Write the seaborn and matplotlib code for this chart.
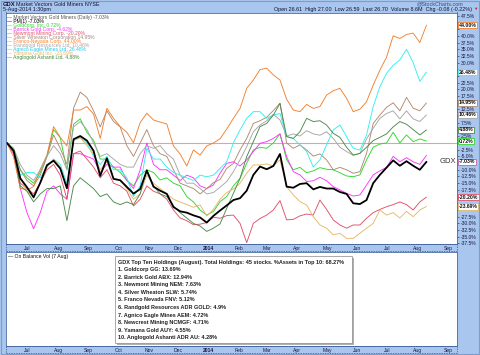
import numpy as np
import pandas as pd
import matplotlib
matplotlib.use("Agg")
import matplotlib.pyplot as plt
import seaborn as sns
from matplotlib.patches import Rectangle

# ---------------- data (percent change since start, weekly readings) ----------------
dates = pd.date_range("2013-06-05", "2014-08-05", periods=64)

gdx = [0, -2.9, -13.2, -16.5, -20.3, -14.8, -8.3, -6.6, -9.5, -16.9, 1.4, 2.6, 0.9, -2.9, -12.3, -5.7,
       -13.4, -13.9, -16.4, -18.9, -17.2, -10.3, -16.3, -17.8, -19.0, -23.9, -25.5, -26.0, -27.0, -27.8,
       -29.7, -27.2, -25.2, -23.3, -21.3, -20.6, -17.8, -11.9, -8.8, -9.8, -8.6, -4.1, -16.3, -16.7,
       -15.3, -15.0, -17.3, -16.4, -17.0, -17.0, -18.3, -19.0, -22.5, -22.8, -21.3, -15.0, -11.9, -9.2,
       -6.5, -8.5, -6.8, -8.5, -10.0, -7.03]
goldcorp = [0, -2, -10, -13, -15, -11, -5, 5, 2, -10, 7, 9, 4, 1, -6, -6, -9, -11, -14, -16, -12, -10,
            -11, -13.8, -13, -15, -16, -20, -22, -25,
            -26.9, -25.6, -21.9, -20, -16, -13.2, -7.6, -2.6, -1.6, -2, 0, 3.4, -6.3, -10, -9.1, -11.1,
            -10.4, -9.2, -9.8, -10, -11.1, -12.3, -12.6, -11.9, -6.3, -1.6, -0.4, 0,
            4, 0, 3, 0.5, 1.5, 0.72]
barrick = [0, -4, -17, -26, -32, -26, -18, -16, -19, -21, -4, -4, -5, -6, -11, -8, -9, -9, -14, -17,
           -10, 0, -8, -10, -10, -12, -14, -12, -13, -16,
           -17, -15.7, -11.3, -7.6, -7, -8.6, -6.3, -3.2, -0.1, 0.5, 1.7, 3.4, -5.1, -10.7, -11.9, -14.4,
           -14.1, -12.8, -14.1, -16.3, -17.5, -18.8, -19.8, -19.4, -15.7, -11.9, -10.4, -9.1,
           -5, -7, -5.5, -7, -8, -4.62]
newmont = [0, -4, -15, -17, -19, -15, -10, -8, -12, -21, -4, -3, -6, -9, -13, -10, -15, -16, -18, -23.5,
           -21, -16, -18, -19, -21, -25, -28, -29, -30.5, -30.3,
           -29.7, -27.7, -28.1, -27.1, -26.9, -30, -37.2, -30, -28.2, -26.9, -25, -21.5, -28.7, -28.5,
           -27.2, -26.5, -26.9, -21.3, -24.8, -28.7, -30.6, -31.8, -30.6, -30.6, -28.1, -26, -24.8, -23.8,
           -23, -22, -23, -25, -22, -20.20]
silver_wheaton = [0, -3, -10, -14, -16, -12, -5, 3, -2, -8, 13, 19, 17, 12, 6, 12, 8, 6, -1, -5, 0, 5,
                  -1, -4, -5, -10, -15, -16, -17, -19,
                  -17, -14.8, -13.6, -9.5, -7.6, -2.6, 1.7, 7.3, 8.3, 9.6, 12.1, 14.8, 0, -2, -0.7, -2.6,
                  -4.9, -4.1, -6.3, -10, -9.1, -10, -11.3, -10.7, -3.9, 7.3, 10.4, 13.3,
                  15, 12, 17, 13, 12, 14.95]
franco_nevada = [0, -5.3, -16.9, -17.5, -16.3, -9.8, -4.5, 6.1, 2.1, -1.1, 12.3, 12.3, 13.6, 10.8, 1.7,
                 12.9, 9.2, 6.1, 4.0, 0.1, 7.6, 11.1, 8.6, 7.8, 7.1, -1.1, -4.1, -8.6, -2.6, -4.5,
                 -1.1, 0.0, 1.6, 5.2, 9.2, 12.9, 20.4, 23.5, 27.4, 27.9, 25.4, 23.5, 16.3, 12.3, 11.7, 14.4,
                 12.9, 13.6, 17.9, 19.5, 20.4, 16.7, 11.7, 12.6, 15.4, 21.6, 27.2, 32.0,
                 40.0, 39.0, 40.5, 41.0, 37.5, 44.00]
randgold = [0, -2, -8, -12, -14, -10, -5, -1, -4, -10, 6, 8, 5, 0, -5, -4, -6, -8, -9, -9, -4, -1, -2,
            -1, -4, -6, -12, -15, -15, -17,
            -19, -18.5, -16.5, -14.4, -10.7, -6.3, -1.4, 4.2, 6.7, 8.3, 10.7, 8.6, 2.6, 3.4, 2.6, 4.6,
            3.4, 2.9, 4.2, 1.7, -1.6, -3.2, -4.6, -3.9, 1.5, 5.5, 9.2, 11,
            12, 9, 12, 9, 8, 10.46]
agnico = [0, -3, -12, -11, -11, -13, -9, -6, -8, -15, 1, 2, 0, -5, -8, -5, -10, -10, -13, -20, -16, -2,
          -6, -6, -9, -11, -12, -13, -14, -12,
          -12.6, -12, -9.5, -7, 0, 4.9, 9.2, 11.7, 11.7, 9.2, 10.4, 11, 2.4, 1.7, -0.7, -3.2, -9, -6.3,
          -0.7, 4.9, 6.7, 2.4, -2, -2.6, 3, 13.6, 21, 26,
          29, 31, 35, 30, 23, 26.48]
yamana = [0, -3, -13, -18, -20, -15, -9, -6, -9, -17, 1, 2, -1, -4, -10, -7, -13, -14, -17, -21, -19,
          -12, -15, -17, -19, -21, -22, -23, -24, -23.1,
          -27.2, -24.8, -21, -18.5, -17.2, -15, -11.3, -8.2, -8.2, -7.8, -8.6, -6.3, -16.3, -19.4, -21.9,
          -23.1, -27.5, -30.6, -31.8, -34.3, -33.7, -35.6, -35.6, -33.7, -31.8, -30, -25, -26.9,
          -26, -28, -25.5, -27.5, -25, -23.69]
anglogold = [0, -3, -16, -18, -22, -19, -17, -17, -16, -29, -16, -13, -15, -17, -20, -19, -22, -23, -22,
             -23, -19, -10, -16, -19, -20, -23.5, -26, -28, -30, -31,
             -33, -31.8, -30.2, -24.4, -18.8, -13.2, -5.1, 0.5, 6.1, 7.3, 10.4, 14.8, 2.4, 1.7, 4.2, 9.2,
             8, 8.3, 6.7, 3.6, 2.1, -1.6, -4.5, -3.9, -1.6, 0.9, 2.1, 3.4,
             6, 8, 7, 5, 3, 4.88]

names = ["Goldcorp, Inc.", "Barrick Gold Corp.", "Newmont Mining Corp.", "Silver Wheaton Corporation",
         "Franco-Nevada Corp.", "Randgold Resources Ltd.", "Agnico Eagle Mines Ltd.", "Yamana Gold Inc.",
         "Anglogold Ashanti Ltd."]
series = [goldcorp, barrick, newmont, silver_wheaton, franco_nevada, randgold, agnico, yamana, anglogold]
colors = ["#2fd62f", "#ff33ff", "#e0506a", "#b08a70", "#f08030", "#a6a6a6", "#33f0f0", "#e6b868", "#4a8a4a"]
legend_colors = ["#2fd62f", "#ff33ff", "#e0506a", "#a08a80", "#ff7f20", "#a6a6a6", "#22c8ee", "#e6b868", "#3f8a3f"]
show_label = [True, False, True, True, True, True, True, True, True]

months = ["Jul", "Aug", "Sep", "Oct", "Nov", "Dec", "2014", "Feb", "Mar", "Apr", "May", "Jun", "Jul", "Aug", "Sep"]
month_starts = pd.date_range("2013-07-01", "2014-09-01", freq="MS")

holdings_title = "GDX Top Ten Holdings (August). Total Holdings: 45 stocks. %Assets in Top 10: 68.27%"
holdings = ["1. Goldcorp GG: 13.69%", "2. Barrick Gold ABX: 12.94%", "3. Newmont Mining NEM: 7.63%",
            "4. Silver Wheaton SLW: 5.74%", "5. Franco Nevada FNV: 5.12%",
            "6. Randgold Resources ADR GOLD: 4.9%", "7. Agnico Eagle Mines AEM: 4.72%",
            "8. Newcrest Mining NCMGF: 4.71%", "9. Yamana Gold AUY: 4.55%",
            "10. Anglogold Ashanti ADR AU: 4.28%"]

# ---------------- figure ----------------
sns.set_style("white")
plt.rcParams["font.family"] = ["Liberation Sans", "DejaVu Sans"]

W, H = 480, 355
BG = "#a9c6ee"
fig = plt.figure(figsize=(W / 100, H / 100), dpi=100, facecolor=BG)

def fx(px):
    return px / W

def fy(py):
    return 1 - py / H

L, R = 6, 457
TOP = 12.5
ax1 = fig.add_axes([fx(L), fy(244), fx(R - L), (244 - TOP) / H])
ax2 = fig.add_axes([fx(L), fy(346), fx(R - L), (346 - 252) / H])

rows = []
for n, s in zip(names, series):
    rows.append(pd.DataFrame({"date": dates, "pct": s, "name": n}))
df = pd.concat(rows, ignore_index=True)
pal = dict(zip(names, colors))

ax1.axhline(0, color="#f09aa6", lw=0.8, zorder=1)
sns.lineplot(data=df, x="date", y="pct", hue="name", palette=pal, hue_order=names,
             linewidth=0.65, legend=False, ax=ax1, estimator=None, sort=False)
sns.lineplot(x=dates, y=gdx, color="black", linewidth=1.3, ax=ax1, estimator=None)

xmin, xmax = pd.Timestamp("2013-06-04"), pd.Timestamp("2014-09-05")
for ax in (ax1, ax2):
    ax.set_xlim(xmin, xmax)
    ax.set_facecolor("white")
    for sp in ax.spines.values():
        sp.set_color("#4a6aa0")
        sp.set_linewidth(0.6)
    ax.set_xlabel("")
    ax.set_ylabel("")
    ticks = [d - pd.Timedelta(days=5) for d in month_starts]
    ax.set_xticks(ticks)
    ax.set_xticklabels(months)
    ax.tick_params(axis="x", length=0, pad=1.2, labelsize=3.6, colors="#1a1a40")
    for lab in ax.get_xticklabels():
        if lab.get_text() == "2014":
            lab.set_fontweight("bold")

# right-side value boxes (values taken from the series ends)
box_items = [(s[-1], c) for s, c, show in zip(series, colors, show_label) if show]
box_items.append((gdx[-1], "#c060c0"))

# y range chosen so that 0% sits at the same height as in the reference
ax1.set_ylim(-37.7, 48.7)
yt = np.arange(-37.5, 48, 2.5)
ax1.set_yticks(yt)
ylabels = []
for v in yt:
    covered = any(abs(v - bv) < 1.6 for bv, _ in box_items)
    ylabels.append("" if covered else f"{v:.1f}%")
ax1.set_yticklabels(ylabels)
ax1.yaxis.tick_right()
ax1.tick_params(axis="y", length=1.5, width=0.4, pad=1.2, labelsize=3.6, colors="#1a1a40")

ax2.set_yticks([])
ax2.set_ylim(0, 1)

for bv, c in box_items:
    ax1.annotate(f"{bv:.2f}%", xy=(1.004, bv), xycoords=("axes fraction", "data"),
                 fontsize=3.7, fontweight="bold", color="#111111", va="center", ha="left",
                 bbox=dict(boxstyle="square,pad=0.15", fc="white", ec=c, lw=0.6), annotation_clip=False)
ax1.annotate("GDX", xy=(0.962, gdx[-1]), xycoords=("axes fraction", "data"), fontsize=5.5,
             color="#333333", va="center", ha="left")

# legend (top-left)
leg_entries = [(f"Market Vectors Gold Miners (Daily) {gdx[-1]:.2f}%", "#555555"),
               (f"PM(1) {gdx[-1]:.2f}%", "#000000")]
leg_entries += [(f"{n} {s[-1]:.2f}%", c) for n, s, c in zip(names, series, legend_colors)]
for i, (t, c) in enumerate(leg_entries):
    ypx = 17.0 + 4.1 * i
    fig.text(fx(7), fy(ypx), "\u2014 " + t, color=c, fontsize=3.6, va="center", ha="left")

# header
fig.text(fx(3), fy(4.0), "GDX", fontsize=4.2, fontweight="bold", color="#111133", va="center")
fig.text(fx(16), fy(4.0), "Market Vectors Gold Miners NYSE", fontsize=3.9, color="#111133", va="center")
fig.text(fx(3), fy(9.0), "5-Aug-2014 1:30pm", fontsize=3.9, color="#111133", va="center")
fig.text(fx(463), fy(3.5), "@StockCharts.com", fontsize=3.9, color="#3a4a7a", va="center", ha="right")
fig.text(fx(472), fy(9.0), "Open 26.61  High 27.00  Low 26.59  Last 26.70  Volume 8.6M  Chg -0.08 (-0.22%)",
         fontsize=3.9, color="#111133", va="center", ha="right")
fig.text(fx(473), fy(9.0), "\u25bc", fontsize=3.2, color="#cc2222", va="center", ha="left")

# lower panel
ax2.text(0.004, 0.947, "\u2014 On Balance Vol (7 Aug)", transform=ax2.transAxes, fontsize=3.7,
         color="#111111", va="center", ha="left")
bx0, bx1, bt, bb = 115, 352, 256, 343
def ax2x(px):
    return (px - L) / (R - L)
def ax2y(py):
    return (346 - py) / (346 - 252)
ax2.add_patch(Rectangle((ax2x(bx0 + 1.5), ax2y(bb + 1.5)), ax2x(bx1) - ax2x(bx0), ax2y(bt) - ax2y(bb),
                        transform=ax2.transAxes, fc="#b0b0b0", ec="none", zorder=2))
ax2.add_patch(Rectangle((ax2x(bx0), ax2y(bb)), ax2x(bx1) - ax2x(bx0), ax2y(bt) - ax2y(bb),
                        transform=ax2.transAxes, fc="white", ec="#888888", lw=0.5, zorder=3))
ax2.text(ax2x(118), ax2y(262.7), holdings_title, transform=ax2.transAxes, fontsize=4.0,
         fontweight="bold", color="#222222", va="center", ha="left", zorder=4)
for i, t in enumerate(holdings):
    ax2.text(ax2x(118), ax2y(269.5 + 7.6 * i), t, transform=ax2.transAxes, fontsize=4.0,
             fontweight="bold", color="#222222", va="center", ha="left", zorder=4)

# dashed axis strips
for top in (244, 346):
    fig.patches.append(Rectangle((fx(L), fy(top + 7)), fx(R - L), 7 / H, transform=fig.transFigure,
                                 fill=False, ec="#33529a", lw=0.5, ls=(0, (2, 1.5))))
fig.patches.append(Rectangle((0.002, 0.002), 0.996, 0.996, transform=fig.transFigure,
                             fill=False, ec="#7f9cc8", lw=0.8))

fig.savefig("out.png", dpi=100, facecolor=BG)
